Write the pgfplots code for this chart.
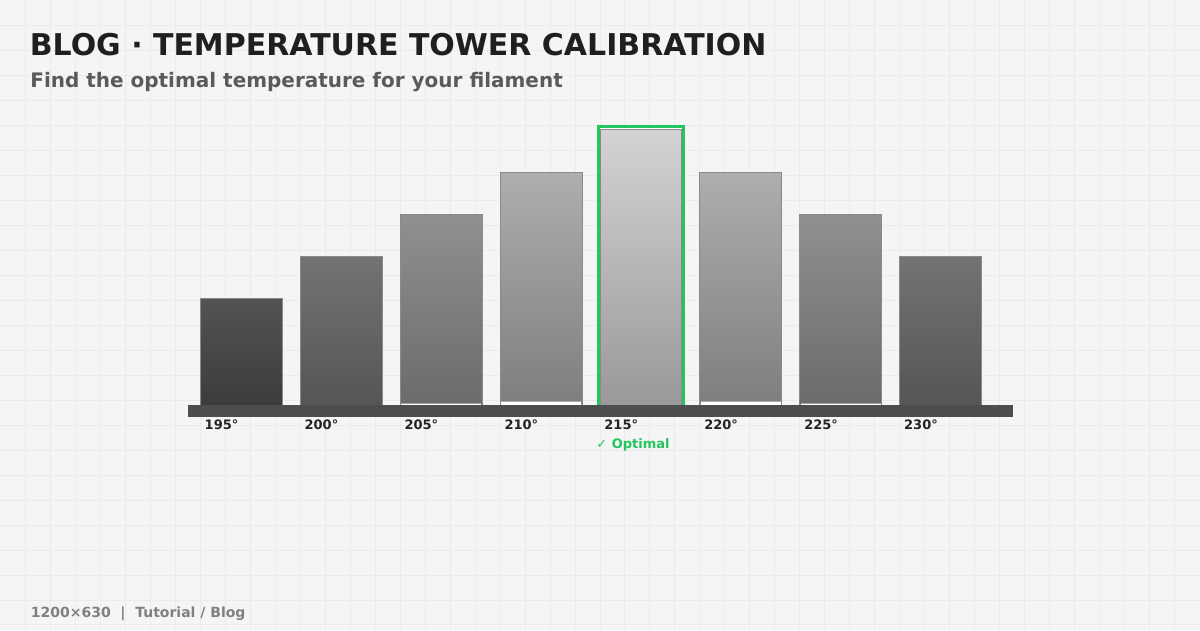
\documentclass[border=0pt]{standalone}
\usepackage{pgfplots}
\pgfplotsset{compat=1.18}
\usepackage{fontspec}
\setmainfont{DejaVu Sans}
\definecolor{bgc}{HTML}{F5F5F5}
\definecolor{gridc}{HTML}{EBEBEB}
\definecolor{optgreen}{HTML}{22C55E}
\definecolor{bordc}{HTML}{8A8A8A}
\definecolor{platc}{HTML}{4D4D4D}
\definecolor{titc}{HTML}{1F1F1F}
\definecolor{subc}{HTML}{5A5A5A}
\definecolor{footc}{HTML}{808080}
\definecolor{tickc}{HTML}{222222}
\definecolor{tA}{HTML}{535353}\definecolor{bA}{HTML}{3C3C3C}
\definecolor{tB}{HTML}{737373}\definecolor{bB}{HTML}{555555}
\definecolor{tC}{HTML}{909090}\definecolor{bC}{HTML}{6B6B6B}
\definecolor{tD}{HTML}{AEAEAE}\definecolor{bD}{HTML}{7E7E7E}
\definecolor{tE}{HTML}{D3D3D3}\definecolor{bE}{HTML}{999999}
\begin{document}
\begin{tikzpicture}[x=0.5bp,y=0.5bp]
\fill[bgc] (0,0) rectangle (1200,630);
\foreach \i in {25,50,...,1175} \draw[gridc,line width=0.5bp] (\i,0)--(\i,630);
\foreach \j in {25,50,...,625} \draw[gridc,line width=0.5bp] (0,630-\j)--(1200,630-\j);
\node[anchor=base west,inner sep=0pt,text=titc] at (29,575) {\fontsize{15bp}{17bp}\selectfont\bfseries BLOG · TEMPERATURE TOWER CALIBRATION};
\node[anchor=base west,inner sep=0pt,text=subc] at (29.5,543) {\fontsize{10bp}{12bp}\selectfont\bfseries Find the optimal temperature for your filament};
\node[anchor=base west,inner sep=0pt,text=footc] at (30,12) {\fontsize{7bp}{9bp}\selectfont\bfseries 1200×630\ \ |\ \ Tutorial / Blog};
\begin{axis}[at={(94bp,112.5bp)},anchor=south west,scale only axis,
  width=412.5bp,height=150bp,xmin=-0.53,xmax=7.72,ymin=0,ymax=300,
  axis line style={draw=none},ytick=\empty,
  xtick={0,1,2,3,4,5,6,7},
  xticklabels={195°,200°,205°,210°,215°,220°,225°,230°},
  major tick length=0pt,clip=false,
  xticklabel style={anchor=base west,inner sep=0pt,xshift=-18.5bp,yshift=-12bp,
    text=tickc,font=\fontsize{6.5bp}{8bp}\selectfont\bfseries},
  every axis plot/.append style={ybar,bar shift=0pt,bar width=0.82,draw=bordc,line width=0.5bp}]
\addplot[fill=white,draw=optgreen,line width=1.5bp,bar width=0.845] coordinates {(4,279)};
\addplot[top color=tA,bottom color=bA] coordinates {(0,106.7)};
\addplot[top color=tB,bottom color=bB] coordinates {(1,148.9)};
\addplot[top color=tC,bottom color=bC] coordinates {(2,191.1)};
\addplot[top color=tD,bottom color=bD] coordinates {(3,233.3)};
\addplot[top color=tE,bottom color=bE] coordinates {(4,275.5)};
\addplot[top color=tD,bottom color=bD] coordinates {(5,233.3)};
\addplot[top color=tC,bottom color=bC] coordinates {(6,191.1)};
\addplot[top color=tB,bottom color=bB] coordinates {(7,148.9)};
\addplot[fill=white,draw=none,bar width=0.8] coordinates {(2,1.5) (3,3.5) (5,3.5) (6,1.5)};
\end{axis}
\fill[platc] (188,213) rectangle (1013,225);
\node[anchor=base west,inner sep=0pt,text=optgreen] at (596,182) {\fontsize{6.5bp}{8bp}\selectfont\bfseries ✓ Optimal};
\end{tikzpicture}
\end{document}
